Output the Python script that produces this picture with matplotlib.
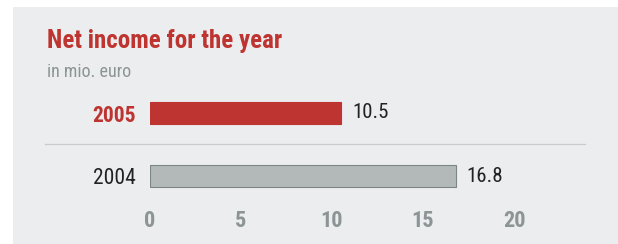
import matplotlib
matplotlib.use("Agg")
import matplotlib.pyplot as plt
from matplotlib.patches import Rectangle
from matplotlib.lines import Line2D

# data
years = ["2005", "2004"]
net_income = [10.5, 16.8]
xticks = [0, 5, 10, 15, 20]

red = "#be3430"
grey_bar = "#b3b8b9"
grey_edge = "#7d8486"
grey_text = "#8c9496"

plt.rcParams["font.family"] = ["Roboto Condensed", "DejaVu Sans"]

W, H = 618, 244
fig = plt.figure(figsize=(W / 100, H / 100), dpi=100)
fig.patch.set_facecolor("white")

# grey panel behind everything
fig.patches.append(Rectangle((13 / W, 0), 1 - 13 / W, 1 - 7 / H,
                             transform=fig.transFigure, facecolor="#ecedef",
                             edgecolor="none", zorder=-10))

px_per_unit = 18.2
ax = fig.add_axes([150 / W, 1 - 201.2 / H, 25 * px_per_unit / W, 113.4 / H])
ax.set_facecolor("none")

pos = list(range(len(years)))
bars = ax.barh(pos, net_income, height=0.35,
               color=[red, grey_bar], edgecolor=[red, grey_edge], linewidth=0.8)

for p, v in zip(pos, net_income):
    ax.annotate(f"{v}", (v, p), xytext=(8, 0), textcoords="offset points",
                va="center", ha="left", fontsize=15, color="#222222")

ax.set_xlim(0, 25)
ax.set_ylim(1.4, -0.4)
ax.set_yticks(pos)
ax.set_yticklabels(years)
ax.set_xticks(xticks)
ax.set_xticklabels([str(t) for t in xticks])
ax.tick_params(axis="both", length=0)
ax.tick_params(axis="y", pad=10, labelsize=15.5)
ax.tick_params(axis="x", pad=6, labelsize=16, labelcolor=grey_text)
for lab in ax.get_xticklabels():
    lab.set_fontweight("bold")
ylabs = ax.get_yticklabels()
ylabs[0].set_color(red)
ylabs[0].set_fontweight("bold")
ylabs[1].set_color("#222222")
for s in ax.spines.values():
    s.set_visible(False)

# separator line between the two years
fig.add_artist(Line2D([44.5 / W, 585 / W], [1 - 144 / H, 1 - 144 / H],
                      transform=fig.transFigure, color="#c9cbcd", linewidth=0.9))

fig.text(47 / W, 1 - 48 / H, "Net income for the year", fontsize=18,
         fontweight="bold", color=red, va="baseline", ha="left")
fig.text(47 / W, 1 - 77 / H, "in mio. euro", fontsize=13,
         color=grey_text, va="baseline", ha="left")

fig.savefig("out.png", dpi=100)
